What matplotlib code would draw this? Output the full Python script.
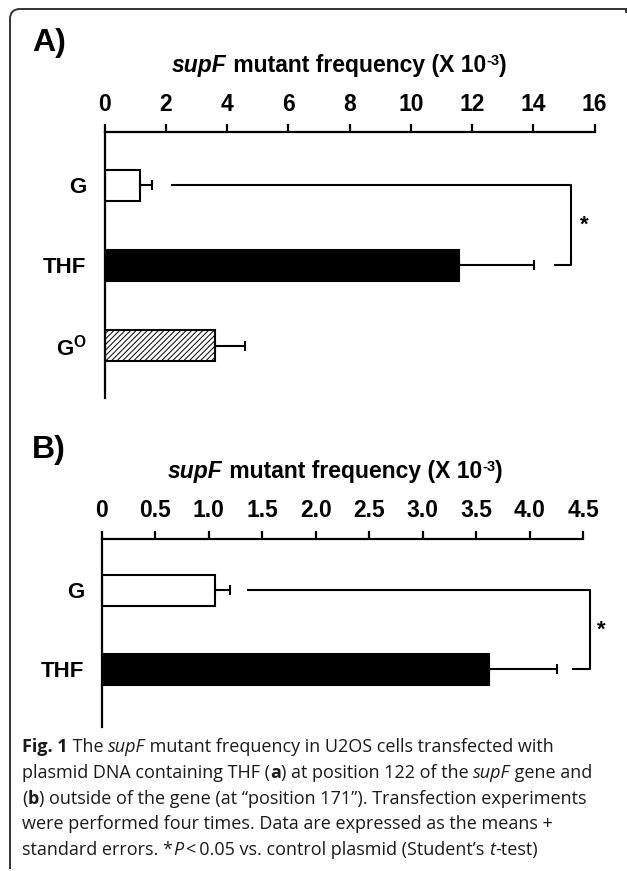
import matplotlib
matplotlib.use("Agg")
import matplotlib.pyplot as plt
from matplotlib.path import Path
from matplotlib.patches import PathPatch

plt.rcParams["font.family"] = ["Liberation Sans", "DejaVu Sans"]
plt.rcParams["mathtext.fontset"] = "custom"
plt.rcParams["mathtext.rm"] = "Liberation Sans:bold"
plt.rcParams["mathtext.bf"] = "Liberation Sans:bold"
plt.rcParams["hatch.linewidth"] = 0.7

# ---- data ----
a_groups = ["G", "THF", r"$\mathbf{G^{O}}$"]
a_means = [1.17, 11.58, 3.59]
a_errs = [0.38, 2.45, 0.99]
a_ticks = [0, 2, 4, 6, 8, 10, 12, 14, 16]

b_groups = ["G", "THF"]
b_means = [1.06, 3.62]
b_errs = [0.14, 0.64]
b_ticks = [0, 0.5, 1.0, 1.5, 2.0, 2.5, 3.0, 3.5, 4.0, 4.5]
b_ticklabels = ["0", "0.5", "1.0", "1.5", "2.0", "2.5", "3.0", "3.5", "4.0", "4.5"]

W, H = 627, 871
fig = plt.figure(figsize=(W / 100, H / 100), dpi=100)


def fx(px):
    return px / W


def fy(py):
    return 1 - py / H


def draw_runs(x, y, parts, ha="left", va="baseline", **common):
    # place several text pieces with different styles side by side (pixel coords)
    r = fig.canvas.get_renderer()
    texts, widths = [], []
    for s, kw in parts:
        kw = dict(common, **kw)
        dy = kw.pop("dy", 0)
        t = fig.text(0, 0, s + "|", va=va, **kw)
        w1 = t.get_window_extent(r).width
        t.set_text("|")
        w2 = t.get_window_extent(r).width
        t.set_text(s)
        texts.append((t, dy))
        widths.append(w1 - w2)
    total = sum(widths)
    cur = x - total / 2 if ha == "center" else x
    for (t, dy), w in zip(texts, widths):
        t.set_position((fx(cur), fy(y - dy)))
        cur += w


def style_axis(ax):
    for s in ["bottom", "right"]:
        ax.spines[s].set_visible(False)
    for s in ["top", "left"]:
        ax.spines[s].set_linewidth(1.6)
    ax.xaxis.tick_top()
    ax.tick_params(axis="x", direction="out", length=6, width=1.6, pad=6,
                   labelsize=16.5)
    ax.tick_params(axis="y", length=0, pad=13, labelsize=16)
    for lab in ax.get_xticklabels() + ax.get_yticklabels():
        lab.set_fontweight("bold")


def bracket(ax, x0, x1, xr, xs):
    ax.plot([x0, xr, xr, x1], [0, 0, 1, 1], color="black", lw=1.5,
            clip_on=False, solid_capstyle="butt")
    ax.text(xs, 0.5, "*", ha="center", va="center", fontsize=16,
            fontweight="bold", clip_on=False)


# ---- panel A ----
axA = fig.add_axes([fx(104.6), fy(398.3), fx(594.6) - fx(104.6), fy(132.3) - fy(398.3)])
ya = list(range(len(a_groups)))
barsA = axA.barh(ya, a_means, height=0.386, color=["white", "black", "white"],
                 edgecolor="black", linewidth=1.5)
barsA[2].set_hatch("//////")
axA.errorbar(a_means, ya, xerr=[[0] * 3, a_errs], fmt="none", ecolor="black",
             elinewidth=1.5, capsize=3.8, capthick=1.5)
axA.set_xlim(0, 16)
axA.set_ylim(2.658, -0.657)
axA.set_xticks(a_ticks)
axA.set_yticks(ya)
axA.set_yticklabels(a_groups)
style_axis(axA)
bracket(axA, 2.16, 14.67, 15.24, 15.66)

# ---- panel B ----
axB = fig.add_axes([fx(102), fy(727), fx(583) - fx(102), fy(539) - fy(727)])
yb = list(range(len(b_groups)))
axB.barh(yb, b_means, height=0.39, color=["white", "black"],
         edgecolor="black", linewidth=1.5)
axB.errorbar(b_means, yb, xerr=[[0] * 2, b_errs], fmt="none", ecolor="black",
             elinewidth=1.5, capsize=3.8, capthick=1.5)
axB.set_xlim(0, 4.5)
axB.set_ylim(1.73, -0.65)
axB.set_xticks(b_ticks)
axB.set_xticklabels(b_ticklabels)
axB.set_yticks(yb)
axB.set_yticklabels(b_groups)
style_axis(axB)
bracket(axB, 1.357, 4.40, 4.567, 4.67)

# ---- panel letters and titles ----
fig.text(fx(32), fy(51), "A)", fontsize=23, fontweight="bold", va="baseline")
fig.text(fx(32), fy(458), "B)", fontsize=23, fontweight="bold", va="baseline")

title_parts = [
    ("supF", dict(style="italic")),
    (" mutant frequency (X 10", {}),
    ("-3", dict(fontsize=10.5, dy=7)),
    (")", {}),
]
draw_runs(172, 72, title_parts, fontsize=16.5, fontweight="bold")
draw_runs(168, 478, title_parts, fontsize=16.5, fontweight="bold")

# ---- caption ----
cap_font = dict(fontsize=13, color="#1a1a1a", family=["Open Sans", "DejaVu Sans"])
B = dict(fontweight="bold")
I = dict(style="italic")
N = {}
caption = [
    [("Fig. 1", B), (" The ", N), ("supF", I),
     (" mutant frequency in U2OS cells transfected with", N)],
    [("plasmid DNA containing THF (", N), ("a", B),
     (") at position 122 of the ", N), ("supF", I), (" gene and", N)],
    [("(", N), ("b", B),
     (") outside of the gene (at \u201cposition 171\u201d). Transfection experiments", N)],
    [("were performed four times. Data are expressed as the means +", N)],
    [("standard errors. *", N), ("P", I), ("\u2009<\u20090.05 vs. control plasmid (Student\u2019s ", N),
     ("t", I), ("-test)", N)],
]
for i, line in enumerate(caption):
    draw_runs(22, 752 + 25.8 * i, line, **cap_font)

# ---- frame (top and left edges, rounded corner) ----
r = 10
verts = [(10, 869), (10, 9 + r), (10, 9), (10 + r, 9), (626, 9), (626, 13)]
codes = [Path.MOVETO, Path.LINETO, Path.CURVE3, Path.CURVE3, Path.LINETO, Path.LINETO]
frame = Path([(fx(a), fy(b)) for a, b in verts], codes)
fig.add_artist(PathPatch(frame, transform=fig.transFigure, fill=False,
                         edgecolor="#333333", linewidth=1.4))

fig.savefig("out.png", dpi=100)
